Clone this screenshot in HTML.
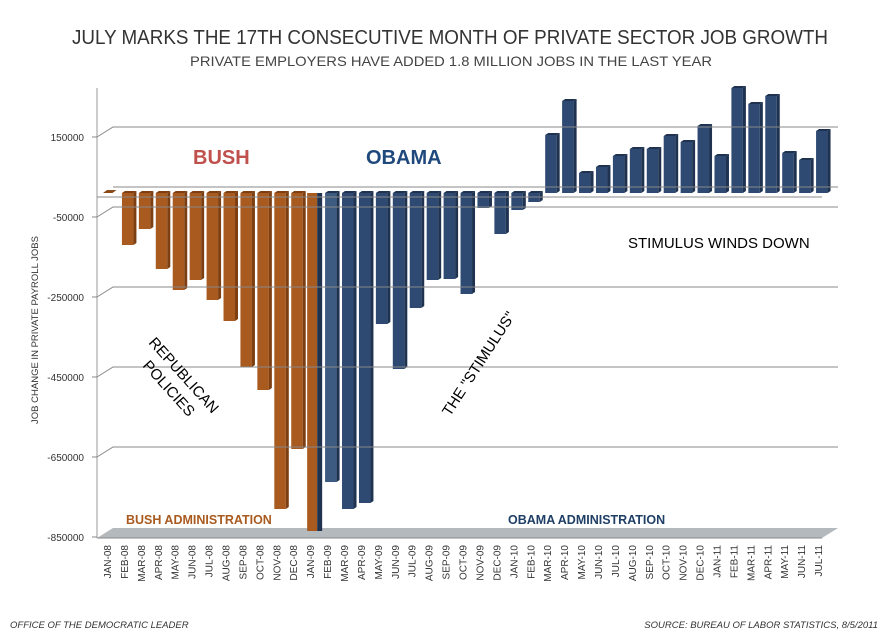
<!DOCTYPE html>
<html><head><meta charset="utf-8"><style>
body{margin:0;background:#fff;}
svg{display:block;font-family:"Liberation Sans",sans-serif;}
</style></head><body>
<svg width="885" height="635" viewBox="0 0 885 635" xmlns="http://www.w3.org/2000/svg">
<rect width="885" height="635" fill="#fff"/>
<text x="72" y="44" font-size="20" fill="#333" textLength="756" lengthAdjust="spacingAndGlyphs">JULY MARKS THE 17TH CONSECUTIVE MONTH OF PRIVATE SECTOR JOB GROWTH</text>
<text x="190" y="66" font-size="14" fill="#444" textLength="522" lengthAdjust="spacingAndGlyphs">PRIVATE EMPLOYERS HAVE ADDED 1.8 MILLION JOBS IN THE LAST YEAR</text>
<polygon points="97,538 113,528 838,528 822,538" fill="#b4b9bd"/>
<line x1="97" y1="538" x2="822" y2="538" stroke="#888" stroke-width="1"/>
<line x1="97" y1="88" x2="97" y2="538" stroke="#999" stroke-width="1"/>
<g id="bars"></g>
<g stroke="#888" stroke-width="1" fill="none">
<polyline points="97,137 113,127 838,127"/>
<polyline points="97,217 113,207 838,207"/>
<polyline points="97,297 113,287 838,287"/>
<polyline points="97,377 113,367 838,367"/>
<polyline points="97,457 113,447 838,447"/>
<line x1="113" y1="187" x2="838" y2="187"/>
<line x1="97" y1="197" x2="822" y2="197"/>
</g>
<g stroke="#888"><line x1="92" y1="137" x2="97" y2="137"/><line x1="92" y1="217" x2="97" y2="217"/><line x1="92" y1="297" x2="97" y2="297"/><line x1="92" y1="377" x2="97" y2="377"/><line x1="92" y1="457" x2="97" y2="457"/><line x1="92" y1="537" x2="97" y2="537"/></g>
<g font-size="10" fill="#333" text-anchor="end">
<text x="84" y="141">150000</text><text x="84" y="221">-50000</text><text x="84" y="301">-250000</text><text x="84" y="381">-450000</text><text x="84" y="461">-650000</text><text x="84" y="541">-850000</text>
</g>
<text transform="translate(38,330) rotate(-90)" text-anchor="middle" font-size="9.5" fill="#333">JOB CHANGE IN PRIVATE PAYROLL JOBS</text>
<g id="labels" font-size="10" fill="#333"></g>
<text x="193" y="164" font-size="20" font-weight="bold" fill="#c0504d">BUSH</text>
<text x="366" y="164" font-size="20" font-weight="bold" fill="#1f497d">OBAMA</text>
<text x="628" y="248" font-size="15" fill="#000">STIMULUS WINDS DOWN</text>
<text x="126" y="524" font-size="12.5" font-weight="bold" fill="#a95a1f">BUSH ADMINISTRATION</text>
<text x="508" y="524" font-size="12.5" font-weight="bold" fill="#1f3f66">OBAMA ADMINISTRATION</text>
<text transform="translate(148,343) rotate(48)" font-size="15" fill="#000">REPUBLICAN</text>
<text transform="translate(142,366) rotate(48)" font-size="15" fill="#000">POLICIES</text>
<text transform="translate(450,417) rotate(-57)" font-size="15" fill="#000">THE "STIMULUS"</text>
<text x="10" y="628" font-size="9.5" font-style="italic" fill="#333">OFFICE OF THE DEMOCRATIC LEADER</text>
<text x="878" y="628" text-anchor="end" font-size="9.5" font-style="italic" fill="#333">SOURCE: BUREAU OF LABOR STATISTICS, 8/5/2011</text>
</svg>
<script>
(function(){
var ends=[190,245,229,269,290,280,300,321,367,390,509,449,531,482,509,503,324,369,308,280,279,294,208,234,210,202,135,101,173,167,156,149,149,136,142,126,156,88,104,96,153,160,131];
var names=["JAN-08","FEB-08","MAR-08","APR-08","MAY-08","JUN-08","JUL-08","AUG-08","SEP-08","OCT-08","NOV-08","DEC-08","JAN-09","FEB-09","MAR-09","APR-09","MAY-09","JUN-09","JUL-09","AUG-09","SEP-09","OCT-09","NOV-09","DEC-09","JAN-10","FEB-10","MAR-10","APR-10","MAY-10","JUN-10","JUL-10","AUG-10","SEP-10","OCT-10","NOV-10","DEC-10","JAN-11","FEB-11","MAR-11","APR-11","MAY-11","JUN-11","JUL-11"];
var ns="http://www.w3.org/2000/svg",g=document.getElementById("bars"),lg=document.getElementById("labels");
function el(t,a,p){var e=document.createElementNS(ns,t);for(var k in a)e.setAttribute(k,a[k]);p.appendChild(e);return e;}
for(var i=0;i<43;i++){
 var c=107+i*16.93, x0=c-2, x1=c+9.5, base=193, e=ends[i];
 var orange=i<12, front=orange?"#a95a1f":"#2e4a73", side=orange?"#7d3f12":"#1f3350";
 if(i==13)front="#3d5a80";
 if(i==0){el("polygon",{points:(x0-2)+",193 "+(x1-4)+",193 "+(x1)+",190 "+(x0+2)+",190",fill:"#8a4a1a"},g);}
 else{
  var ty=Math.min(base,e),by=Math.max(base,e);
  if(i==12){el("rect",{x:x0-1,y:ty,width:10,height:by-ty,fill:"#a95a1f"},g);
   el("rect",{x:x0+9,y:ty,width:5,height:by-ty,fill:"#1f3350"},g);}
  else{
  el("rect",{x:x0,y:ty,width:x1-x0,height:by-ty,fill:front},g);
  el("polygon",{points:x1+","+ty+" "+(x1+3)+","+(ty-2)+" "+(x1+3)+","+(by-2)+" "+x1+","+by,fill:side},g);
  el("polygon",{points:x0+","+ty+" "+(x0+3)+","+(ty-2)+" "+(x1+3)+","+(ty-2)+" "+x1+","+ty,fill:side},g);}
 }
 var t=el("text",{transform:"translate("+(c+4)+",545) rotate(-90)","text-anchor":"end"},lg);t.textContent=names[i];
}
})();
</script>
</body></html>
